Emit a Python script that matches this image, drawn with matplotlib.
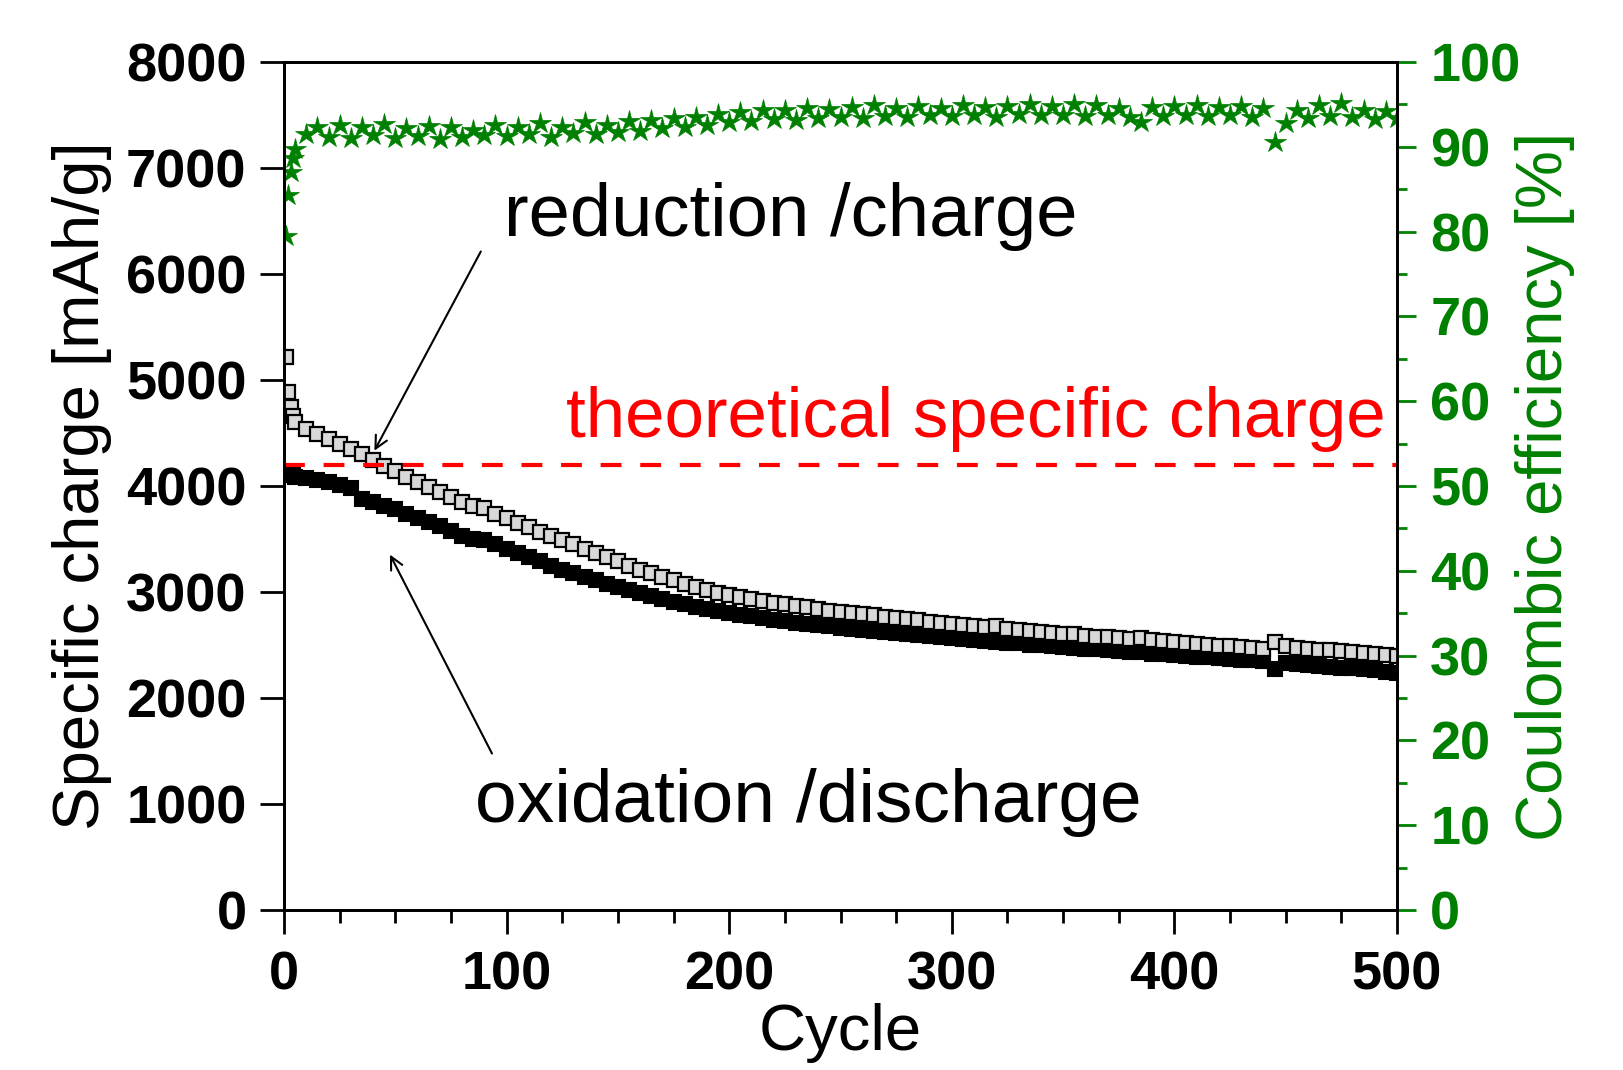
import matplotlib
matplotlib.use("Agg")
import matplotlib.pyplot as plt
from matplotlib.ticker import MultipleLocator

plt.rcParams["font.family"] = ["Liberation Sans", "DejaVu Sans"]

# cycle numbers: first four cycles, then every 5th cycle
cycles = [1, 2, 3, 4] + list(range(5, 501, 5))

# reduction / charge, mAh/g (open squares)
charge = [5220, 4890, 4750, 4660,
          4600, 4540, 4490, 4440, 4400, 4350, 4300, 4250, 4190, 4140,
          4090, 4040, 3990, 3940, 3900, 3850, 3810, 3790, 3740, 3700,
          3650, 3610, 3570, 3530, 3490, 3450, 3410, 3370, 3330, 3290,
          3250, 3210, 3180, 3140, 3110, 3080, 3050, 3020, 2995, 2975,
          2955, 2935, 2915, 2900, 2885, 2870, 2855, 2840, 2825, 2815,
          2800, 2790, 2780, 2765, 2755, 2745, 2735, 2720, 2710, 2700,
          2690, 2680, 2670, 2680, 2650, 2640, 2630, 2625, 2615, 2605,
          2600, 2590, 2580, 2575, 2565, 2560, 2570, 2545, 2535, 2525,
          2520, 2510, 2500, 2495, 2490, 2480, 2470, 2465, 2530, 2490,
          2470, 2460, 2455, 2450, 2440, 2430, 2425, 2415, 2410, 2400]

# oxidation / discharge, mAh/g (filled squares)
discharge = [4120, 4110, 4100, 4100,
             4090, 4080, 4060, 4040, 4010, 3980, 3880, 3850, 3810, 3780,
             3740, 3700, 3660, 3620, 3580, 3530, 3500, 3490, 3450, 3410,
             3370, 3330, 3290, 3250, 3210, 3180, 3140, 3110, 3080, 3050,
             3020, 2990, 2960, 2935, 2910, 2885, 2860, 2840, 2820, 2800,
             2785, 2770, 2755, 2740, 2725, 2710, 2700, 2690, 2675, 2665,
             2655, 2645, 2635, 2625, 2615, 2605, 2595, 2585, 2575, 2565,
             2555, 2545, 2540, 2530, 2520, 2515, 2505, 2500, 2490, 2480,
             2475, 2465, 2460, 2450, 2445, 2435, 2430, 2420, 2415, 2405,
             2400, 2390, 2385, 2375, 2370, 2360, 2355, 2345, 2270, 2330,
             2320, 2310, 2305, 2295, 2285, 2280, 2270, 2260, 2250, 2240]

# coulombic efficiency, % (green stars)
efficiency = [79.5, 84.3, 87.0, 88.7,
              89.8, 91.5, 92.4, 91.2, 92.6, 91.0, 92.3, 91.4, 92.7, 91.1,
              92.2, 91.3, 92.5, 90.9, 92.4, 91.2, 92.0, 91.4, 92.6, 91.3,
              92.4, 91.5, 92.8, 91.2, 92.3, 91.6, 92.9, 91.5, 92.6, 91.8,
              93.0, 91.9, 93.2, 92.2, 93.4, 92.4, 93.5, 92.6, 93.9, 92.9,
              94.1, 93.0, 94.3, 93.3, 94.4, 93.2, 94.6, 93.4, 94.5, 93.5,
              94.7, 93.4, 94.9, 93.6, 94.6, 93.5, 94.8, 93.7, 94.6, 93.6,
              94.9, 93.8, 94.7, 93.5, 94.8, 93.9, 95.0, 93.7, 94.8, 93.8,
              95.0, 93.6, 94.9, 93.7, 94.6, 93.5, 92.9, 94.7, 93.6, 94.8,
              93.7, 94.9, 93.6, 94.7, 93.8, 94.8, 93.5, 94.6, 90.6, 92.8,
              94.3, 93.4, 94.9, 93.6, 95.2, 93.5, 94.4, 93.3, 94.2, 93.4]

theoretical = 4200

green = "#008000"
tick_font = {"family": "Liberation Sans", "weight": "bold", "size": 39}

fig = plt.figure(figsize=(16.24, 10.70), dpi=100)
ax = fig.add_axes([0.1749, 0.1495, 0.6853, 0.7925])
ax2 = ax.twinx()

ax.plot(cycles, discharge, linestyle="none", marker="s", markersize=9.5,
        markerfacecolor="black", markeredgecolor="black", markeredgewidth=1.5, zorder=3)
ax.plot(cycles, charge, linestyle="none", marker="s", markersize=9.5,
        markerfacecolor="#d8d8d8", markeredgecolor="black", markeredgewidth=1.6, zorder=4)
ax.axhline(theoretical, color="red", linestyle=(0, (5, 4.5)), linewidth=3, zorder=5)

ax2.plot(cycles, efficiency, linestyle="none", marker="*", markersize=16,
         color=green, markeredgewidth=0.5)

ax.set_xlim(0, 500)
ax.set_ylim(0, 8000)
ax2.set_ylim(0, 100)

ax.xaxis.set_major_locator(MultipleLocator(100))
ax.xaxis.set_minor_locator(MultipleLocator(25))
ax.yaxis.set_major_locator(MultipleLocator(1000))
ax.yaxis.set_minor_locator(MultipleLocator(1000))
ax2.yaxis.set_major_locator(MultipleLocator(10))
ax2.yaxis.set_minor_locator(MultipleLocator(5))

ax.tick_params(axis="x", which="major", direction="out", length=17, width=2, pad=12)
ax.tick_params(axis="x", which="minor", direction="out", length=9, width=2)
ax.tick_params(axis="y", which="major", direction="out", length=17, width=2, pad=10)
ax.tick_params(axis="y", which="minor", length=0)
ax2.tick_params(axis="y", which="major", direction="out", length=14, width=2,
                color=green, labelcolor=green, pad=10)
ax2.tick_params(axis="y", which="minor", direction="out", length=7, width=2, color=green)

for lab in ax.get_xticklabels() + ax.get_yticklabels():
    lab.set_fontproperties(tick_font)
for lab in ax2.get_yticklabels():
    lab.set_fontproperties(tick_font)

for a in (ax, ax2):
    for s in a.spines.values():
        s.set_linewidth(2)
        s.set_color("black")

ax.set_xlabel("Cycle", fontsize=47, labelpad=2)
ax.set_ylabel("Specific charge [mAh/g]", fontsize=47, labelpad=10)
ax2.set_ylabel("Coulombic efficiency [%]", fontsize=47, color=green, labelpad=-4)

ax.text(99, 6540, "reduction /charge", fontsize=53.5, ha="left", va="center")
ax.text(495, 4630, "theoretical specific charge", fontsize=51, color="red",
        ha="right", va="center")
ax.text(86, 1010, "oxidation /discharge", fontsize=54, ha="left", va="center")

arrow = dict(arrowstyle="->,head_length=0.9,head_width=0.45", color="black", lw=1.5)
ax.annotate("", xy=(40, 4310), xytext=(89, 6236), arrowprops=arrow)
ax.annotate("", xy=(47, 3377), xytext=(94, 1453), arrowprops=arrow)

fig.savefig("out.png", dpi=100)
